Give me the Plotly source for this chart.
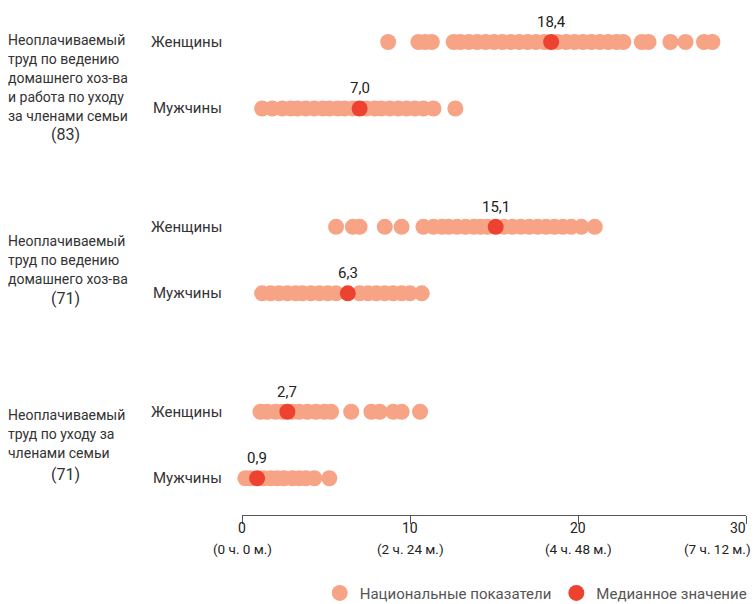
import plotly.graph_objects as go

# ---------------- data ----------------
GROUP_LABELS = [
    ["Неоплачиваемый", "труд по ведению", "домашнего хоз-ва", "и работа по уходу", "за членами семьи"],
    ["Неоплачиваемый", "труд по ведению", "домашнего хоз-ва"],
    ["Неоплачиваемый", "труд по уходу за", "членами семьи"],
]
GROUP_COUNTS = ["(83)", "(71)", "(71)"]
SEX_LABELS = ["Женщины", "Мужчины"]

W_HOUSE_CARE = [8.7, 10.5, 10.9, 11.3, 12.6, 13.0, 13.5, 14.0, 14.5, 15.0, 15.5, 16.0, 16.5,
                17.0, 17.5, 18.0, 18.8, 19.3, 19.8, 20.3, 20.8, 21.3, 21.8, 22.3, 22.7,
                23.8, 24.2, 25.5, 26.4, 27.5, 28.0]
M_HOUSE_CARE = [1.2, 1.8, 2.4, 2.9, 3.3, 3.8, 4.3, 4.8, 5.2, 5.7, 6.1, 6.6, 7.4, 7.9, 8.3,
                8.8, 9.3, 9.8, 10.3, 10.8, 11.4, 12.7]
W_HOUSE = [5.6, 6.6, 7.0, 8.5, 9.5, 10.8, 11.4, 11.9, 12.3, 12.8, 13.3, 13.8, 14.2, 14.6,
           15.6, 16.1, 16.6, 17.1, 17.6, 18.1, 18.6, 19.1, 19.6, 20.2, 21.0]
M_HOUSE = [1.2, 1.7, 2.2, 2.7, 3.2, 3.6, 4.1, 4.6, 5.1, 5.6, 7.0, 7.5, 8.0, 8.5, 9.0, 9.5,
           10.0, 10.7]
W_CARE = [1.1, 1.5, 2.0, 2.4, 3.0, 3.4, 3.9, 4.4, 4.9, 5.3, 6.5, 7.7, 8.2, 9.0, 9.5, 10.6]
M_CARE = [0.2, 0.5, 1.3, 1.7, 2.1, 2.5, 3.0, 3.4, 3.8, 4.3, 5.2]

NATIONAL = [[W_HOUSE_CARE, M_HOUSE_CARE], [W_HOUSE, M_HOUSE], [W_CARE, M_CARE]]
MEDIANS = [[18.4, 7.0], [15.1, 6.3], [2.7, 0.9]]

TICK_VALS = [0, 10, 20, 30]
TICK_TIMES = ["(0 ч. 0 м.)", "(2 ч. 24 м.)", "(4 ч. 48 м.)", "(7 ч. 12 м.)"]

LEGEND_NAMES = ["Национальные показатели", "Медианное значение"]

# ---------------- styles ----------------
C_NAT = "#F7A385"
C_MED = "#EE4230"
TEXT = "#333333"
COND = "Roboto, sans-serif"
REG = "Roboto, Open Sans, sans-serif"
GROUP_STEP = 2.78
LINE_H = 19
# vertical offset (px, downward) of first label line relative to the women row
LINE1_OFF = [-2, 14, 3]
COUNT_OFF = [93, 72, 63]

def row_y(g, s):
    return g * GROUP_STEP + s

nx, ny, mx, my = [], [], [], []
for g in range(3):
    for s in range(2):
        for v in NATIONAL[g][s]:
            nx.append(v)
            ny.append(row_y(g, s))
        mx.append(MEDIANS[g][s])
        my.append(row_y(g, s))

fig = go.Figure()
fig.add_trace(go.Scatter(x=nx, y=ny, mode="markers", name=LEGEND_NAMES[0],
                         marker=dict(size=16, color=C_NAT, line=dict(width=0)),
                         cliponaxis=False, hoverinfo="x"))
fig.add_trace(go.Scatter(x=mx, y=my, mode="markers", name=LEGEND_NAMES[1],
                         marker=dict(size=16, color=C_MED, line=dict(width=0)),
                         cliponaxis=False, hoverinfo="x"))

ann = []
# median labels
for g in range(3):
    for s in range(2):
        v = MEDIANS[g][s]
        ann.append(dict(x=v, y=row_y(g, s), xref="x", yref="y", yshift=20,
                        text=f"{v:.1f}".replace(".", ","), showarrow=False,
                        font=dict(family=REG, size=15, color="#222")))

PLOT_L, PLOT_W = 242, 504
def px_to_paper(px):
    return (px - PLOT_L) / PLOT_W

# sex labels
for g in range(3):
    for s in range(2):
        ann.append(dict(x=px_to_paper(224), y=row_y(g, s), xref="paper", yref="y",
                        xanchor="right", text=SEX_LABELS[s], showarrow=False,
                        font=dict(family=COND, size=15, color=TEXT)))
# group labels
for g in range(3):
    for i, line in enumerate(GROUP_LABELS[g]):
        ann.append(dict(x=px_to_paper(6), y=row_y(g, 0), xref="paper", yref="y",
                        xanchor="left", yshift=-(LINE1_OFF[g] + i * LINE_H),
                        text=line, showarrow=False,
                        font=dict(family=COND, size=14, color=TEXT)))
    ann.append(dict(x=px_to_paper(65), y=row_y(g, 0), xref="paper", yref="y",
                    xanchor="center", yshift=-COUNT_OFF[g], text=GROUP_COUNTS[g],
                    showarrow=False, font=dict(family=COND, size=16, color=TEXT)))
# tick labels
AX_BOTTOM_PX = 515
PLOT_H = 505
for i, (tv, tt) in enumerate(zip(TICK_VALS, TICK_TIMES)):
    last = i == len(TICK_VALS) - 1
    ann.append(dict(x=tv, xref="x", y=-(538 - AX_BOTTOM_PX) / PLOT_H, yref="paper",
                    xanchor="right" if last else "center", xshift=2 if last else 0,
                    text=str(tv), showarrow=False,
                    font=dict(family=REG, size=14, color="#222")))
    ann.append(dict(x=tv, xref="x", y=-(559 - AX_BOTTOM_PX) / PLOT_H, yref="paper",
                    xanchor="right" if last else "center", xshift=7 if last else 0,
                    text=tt, showarrow=False,
                    font=dict(family=REG, size=13.5, color="#222")))

fig.update_layout(
    width=754, height=604,
    margin=dict(l=242, r=8, t=10, b=89, autoexpand=False),
    paper_bgcolor="white", plot_bgcolor="white",
    showlegend=True,
    legend=dict(orientation="h", xref="container", yref="container",
                x=0.997, xanchor="right", y=0.018, yanchor="middle",
                font=dict(family=REG, size=15, color="#555"), itemwidth=30,
                bgcolor="rgba(0,0,0,0)"),
    annotations=ann,
    xaxis=dict(range=[0, 30], showgrid=False, zeroline=False, showline=True,
               linecolor="#555", linewidth=1, ticks="outside", ticklen=8,
               tickcolor="#555", tickvals=TICK_VALS, showticklabels=False,
               fixedrange=True),
    yaxis=dict(range=[7.113, -0.481], visible=False, fixedrange=True),
)

fig.write_html("out.html", config={"displayModeBar": False},
               post_script="document.body.style.margin='0px';")
